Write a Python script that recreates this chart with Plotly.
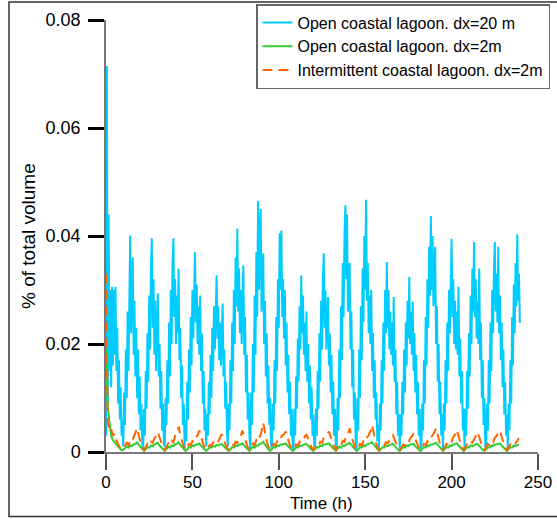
import plotly.graph_objects as go

# Values are stored in units of 1e-4 (% of total volume)
UNIT = 1e-4
STEP_CYAN_H = 0.5
STEP_OTHER_H = 1.0

# Open coastal lagoon, dx=20 m: half-hourly readings, grouped by tidal cycle (t = 0 .. 239.5 h)
open_dx20_cycles = [
    [30, 715, 90, 440, 150, 300, 120, 306, 160, 300, 180, 306, 150, 230, 90, 170, 60, 120, 30, 60],
    [10, 110, 50, 190, 100, 260, 150, 330, 401, 220, 300, 360, 180, 280, 140, 230, 100, 190, 70, 140, 40, 90, 15],
    [5, 80, 30, 150, 80, 220, 130, 290, 190, 340, 396, 230, 320, 180, 280, 150, 240, 294, 140, 200, 80, 150, 40, 90, 15],
    [10, 100, 50, 170, 90, 240, 140, 300, 200, 350, 396, 250, 320, 200, 290, 220, 340, 170, 230, 100, 160, 50, 90],
    [5, 60, 20, 130, 60, 190, 110, 250, 160, 300, 210, 330, 370, 240, 310, 200, 270, 180, 290, 150, 220, 90, 150, 40, 80],
    [10, 70, 30, 130, 70, 180, 100, 230, 150, 270, 190, 290, 327, 210, 270, 170, 240, 160, 220, 275, 140, 190, 80, 130, 40],
    [10, 90, 40, 170, 90, 240, 150, 300, 200, 360, 270, 414, 260, 340, 220, 300, 200, 280, 346, 180, 250, 110, 180, 60, 110, 30],
    [5, 110, 50, 200, 110, 290, 180, 370, 250, 465, 300, 400, 450, 260, 330, 368, 200, 280, 140, 220, 90, 160, 50, 100, 15],
    [5, 90, 40, 170, 90, 250, 150, 320, 230, 405, 300, 410, 250, 320, 210, 300, 160, 240, 110, 180, 70, 130, 30, 80, 10],
    [5, 80, 30, 140, 80, 210, 130, 270, 190, 327, 220, 290, 180, 240, 150, 260, 130, 200, 90, 160, 60, 120, 30, 70, 10],
    [5, 80, 30, 150, 80, 220, 130, 280, 190, 320, 368, 230, 300, 190, 250, 287, 160, 220, 110, 180, 70, 130, 30, 80, 10],
    [5, 100, 40, 190, 100, 270, 170, 350, 250, 400, 457, 320, 440, 260, 330, 350, 190, 260, 120, 190, 60, 110, 20],
    [5, 100, 40, 190, 100, 270, 170, 340, 240, 400, 300, 467, 280, 350, 220, 290, 200, 300, 150, 220, 100, 170, 60, 110, 20, 50],
    [5, 90, 40, 170, 90, 240, 150, 300, 220, 352, 230, 300, 190, 260, 180, 240, 160, 287, 130, 190, 70, 130, 30, 70],
    [5, 70, 30, 130, 70, 190, 110, 240, 160, 280, 210, 324, 200, 260, 180, 278, 150, 220, 110, 180, 70, 130, 30, 80, 10],
    [5, 90, 40, 170, 90, 250, 160, 320, 230, 380, 290, 437, 300, 400, 270, 330, 380, 200, 270, 130, 200, 70, 130, 30, 70],
    [5, 90, 40, 170, 90, 240, 150, 300, 220, 350, 395, 250, 320, 200, 280, 190, 260, 180, 306, 140, 210, 90, 150, 40, 80],
    [5, 80, 30, 150, 80, 220, 140, 290, 200, 340, 260, 389, 250, 320, 210, 280, 200, 340, 170, 240, 100, 170, 50, 100, 10],
    [5, 90, 40, 170, 90, 240, 150, 300, 220, 340, 389, 260, 330, 240, 380, 220, 290, 170, 240, 120, 190, 70, 130, 30, 70],
    [5, 90, 40, 170, 90, 250, 160, 310, 220, 350, 270, 403, 280, 330, 239],
]

# Open coastal lagoon, dx=2 m  (hourly, t = 0 .. 239 h)
open_dx2 = [
    190, 85, 55, 30, 22, 18, 14, 10, 6, 3,
    4, 7, 10, 8, 12, 11, 14, 15, 18, 13,
    9, 5, 2, 5, 9, 8, 12, 11, 14, 15,
    17, 12, 8, 4, 2, 6, 10, 8, 12, 11,
    14, 15, 18, 13, 9, 5, 2, 5, 9, 8,
    12, 11, 14, 14, 16, 12, 8, 4, 2, 5,
    9, 8, 11, 10, 13, 12, 14, 15, 11, 8,
    4, 2, 5, 9, 8, 12, 11, 14, 14, 16,
    12, 8, 4, 2, 6, 10, 8, 12, 12, 15,
    16, 19, 14, 9, 5, 2, 5, 9, 8, 12,
    11, 14, 14, 15, 16, 12, 8, 4, 2, 5,
    9, 8, 12, 11, 13, 14, 15, 11, 7, 4,
    2, 5, 9, 8, 12, 11, 14, 14, 15, 16,
    12, 8, 4, 2, 6, 10, 8, 12, 11, 14,
    15, 17, 13, 9, 5, 2, 5, 9, 8, 12,
    11, 14, 15, 16, 18, 13, 9, 5, 2, 5,
    9, 8, 12, 11, 13, 14, 15, 11, 7, 4,
    2, 5, 9, 8, 12, 11, 14, 14, 15, 11,
    7, 4, 2, 5, 9, 8, 12, 11, 14, 14,
    15, 17, 13, 9, 5, 2, 5, 9, 8, 12,
    11, 14, 15, 16, 12, 8, 4, 2, 5, 9,
    8, 12, 11, 13, 14, 15, 11, 7, 4, 2,
    5, 9, 8, 12, 11, 14, 14, 15, 16, 12,
    8, 4, 2, 5, 9, 8, 12, 11, 13, 14,
]

# Intermittent coastal lagoon, dx=2 m  (hourly, t = 0 .. 239 h)
intermittent_dx2 = [
    330, 55, 38, 42, 30, 34, 22, 14, 8, 5,
    6, 12, 17, 13, 21, 19, 28, 33, 44, 29,
    18, 9, 4, 9, 15, 12, 19, 17, 25, 29,
    37, 27, 17, 8, 4, 10, 16, 13, 21, 18,
    30, 34, 47, 31, 19, 9, 4, 9, 15, 13,
    20, 18, 27, 31, 40, 27, 18, 8, 4, 8,
    13, 11, 18, 16, 22, 20, 28, 33, 23, 15,
    8, 4, 9, 14, 12, 19, 17, 26, 30, 40,
    28, 18, 9, 4, 10, 16, 13, 22, 19, 30,
    38, 54, 35, 20, 10, 4, 9, 15, 12, 20,
    18, 26, 30, 33, 38, 26, 17, 8, 4, 9,
    14, 12, 19, 17, 24, 28, 33, 23, 15, 8,
    4, 9, 14, 12, 19, 17, 26, 30, 33, 38,
    27, 17, 9, 4, 10, 16, 13, 21, 19, 29,
    33, 44, 29, 18, 9, 4, 9, 15, 12, 20,
    18, 27, 31, 38, 50, 32, 19, 9, 4, 9,
    14, 12, 18, 16, 23, 27, 31, 22, 14, 8,
    4, 9, 14, 12, 19, 17, 25, 29, 34, 24,
    15, 8, 4, 9, 15, 13, 20, 18, 27, 31,
    36, 44, 30, 19, 9, 4, 9, 15, 13, 21,
    19, 28, 32, 41, 29, 18, 9, 4, 9, 14,
    12, 19, 17, 25, 30, 37, 26, 16, 8, 4,
    9, 15, 13, 20, 18, 26, 30, 34, 40, 28,
    17, 9, 4, 9, 14, 12, 18, 16, 22, 26,
]

series_names = [
    "Open coastal lagoon. dx=20 m",
    "Open coastal lagoon. dx=2m",
    "Intermittent coastal lagoon. dx=2m",
]
x_ticks = [0, 50, 100, 150, 200, 250]
y_tickvals = [0, 0.02, 0.04, 0.06, 0.08]
y_ticktext = ["0", "0.02", "0.04", "0.06", "0.08"]

open_dx20 = [v for cycle in open_dx20_cycles for v in cycle]
assert len(open_dx20) == 480, len(open_dx20)
assert len(open_dx2) == 240 and len(intermittent_dx2) == 240

t_cyan = [i * STEP_CYAN_H for i in range(len(open_dx20))]
t_green = [i * STEP_OTHER_H for i in range(len(open_dx2))]
t_orange = [i * STEP_OTHER_H for i in range(len(intermittent_dx2))]

FONT = "Liberation Sans, Arial, sans-serif"

fig = go.Figure()
fig.add_trace(go.Scatter(x=t_cyan, y=[v * UNIT for v in open_dx20], mode="lines",
                         name=series_names[0], line=dict(color="#00CCFF", width=2)))
fig.add_trace(go.Scatter(x=t_green, y=[v * UNIT for v in open_dx2], mode="lines",
                         name=series_names[1], line=dict(color="#33CC33", width=2)))
fig.add_trace(go.Scatter(x=t_orange, y=[v * UNIT for v in intermittent_dx2], mode="lines",
                         name=series_names[2], line=dict(color="#FF6600", width=2, dash="10px,6px")))

W, H = 557, 519
L, R, T, B = 106, 19, 20, 67
pw, ph = W - L - R, H - T - B

def px(x):
    return (x - L) / pw

def py(y):
    return (H - B - y) / ph

fig.update_layout(
    width=W, height=H,
    margin=dict(l=L, r=R, t=T, b=B, pad=0, autoexpand=False),
    paper_bgcolor="white", plot_bgcolor="white",
    font=dict(family=FONT, size=17, color="black"),
    showlegend=True,
    legend=dict(x=px(256), y=py(4), xanchor="left", yanchor="top",
                bgcolor="white", bordercolor="#666666", borderwidth=1.5,
                font=dict(family=FONT, size=16, color="black"),
                tracegroupgap=0),
    xaxis=dict(range=[0, 250], tickvals=x_ticks, showgrid=False, zeroline=False,
               showline=True, linecolor="#777777", linewidth=1.5,
               ticks="outside", ticklen=16, tickwidth=1.5, tickcolor="#555555",
               tickfont=dict(size=17), ticklabelstandoff=-2, automargin=False,
               layer="below traces"),
    yaxis=dict(range=[0, 0.08], tickvals=y_tickvals, ticktext=y_ticktext,
               showgrid=False, zeroline=False,
               showline=True, linecolor="#777777", linewidth=1.5,
               ticks="outside", ticklen=16, tickwidth=2.5, tickcolor="black",
               tickfont=dict(size=18), ticklabelstandoff=4, automargin=False,
               layer="below traces"),
    annotations=[
        dict(text="Time (h)", xref="paper", yref="paper", x=px(321), y=py(503),
             xanchor="center", yanchor="middle", showarrow=False,
             font=dict(size=17)),
        dict(text="% of total volume", xref="paper", yref="paper", x=px(28), y=py(236),
             xanchor="center", yanchor="middle", showarrow=False, textangle=-90,
             font=dict(size=19)),
    ],
    shapes=[
        dict(type="rect", xref="paper", yref="paper",
             x0=px(9), x1=px(562), y0=py(516.5), y1=py(2),
             line=dict(color="#333333", width=1.5), fillcolor="rgba(0,0,0,0)",
             layer="below"),
    ],
)

fig.write_html("out.html")
